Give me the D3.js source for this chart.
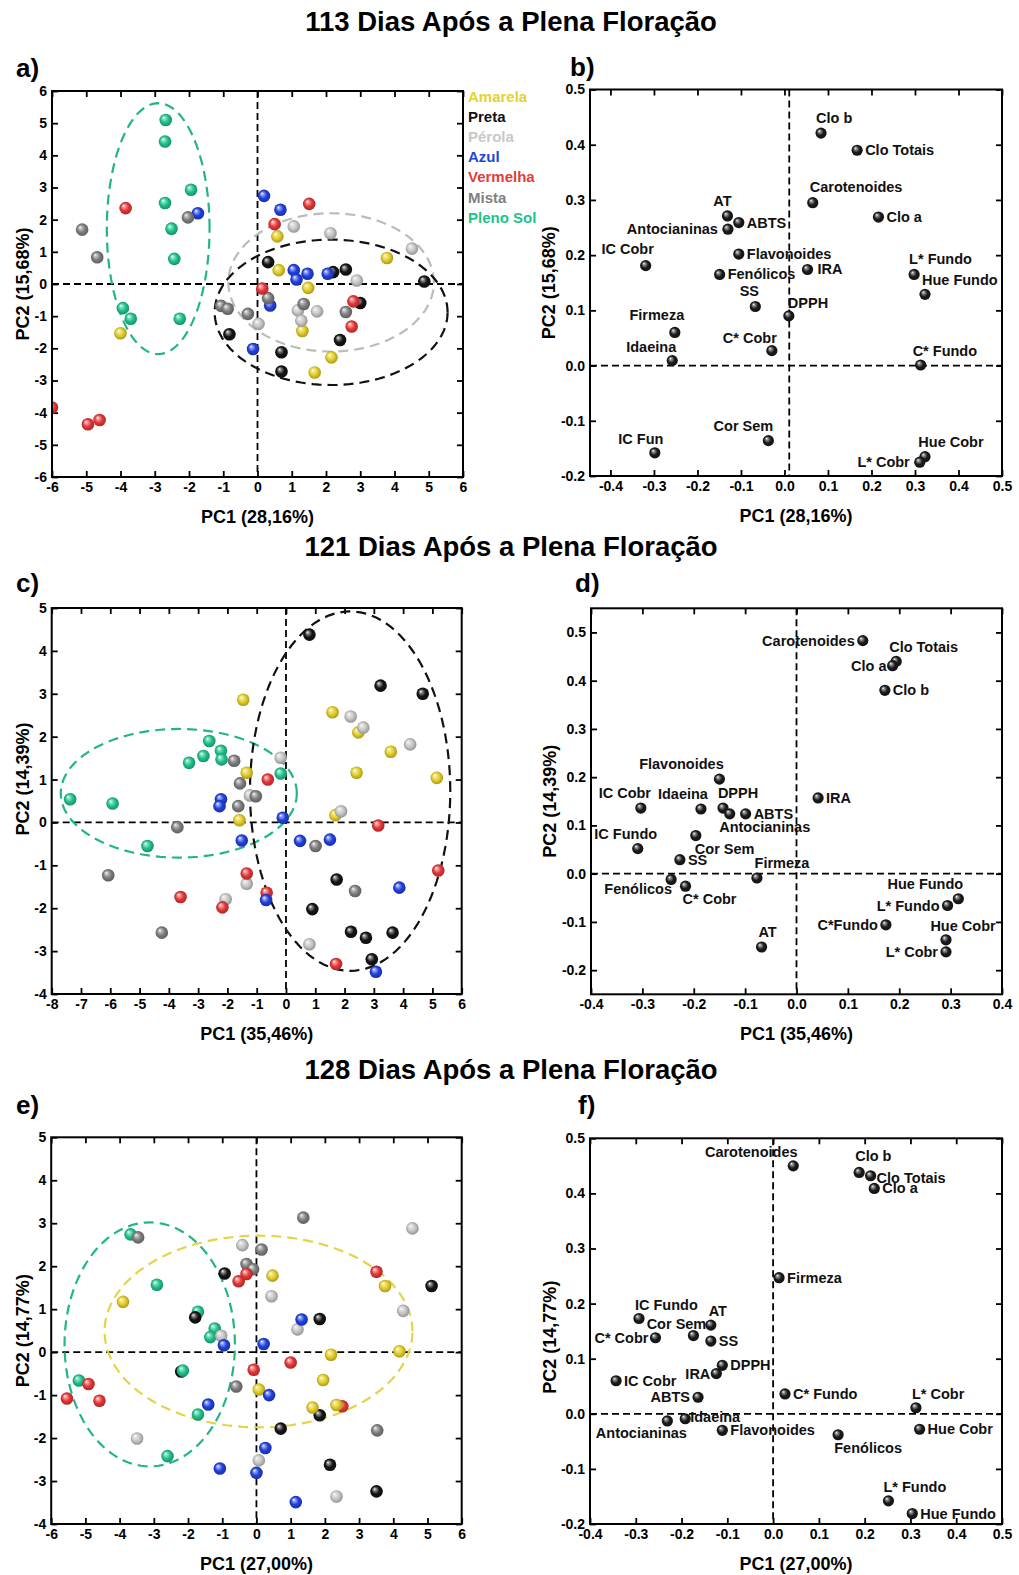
<!DOCTYPE html>
<html><head><meta charset="utf-8">
<script src="https://cdn.jsdelivr.net/npm/d3@7"></script>
<style>
body{margin:0;background:#fff;}
svg{display:block;font-family:"Liberation Sans",Arial,sans-serif;font-weight:bold;}
</style></head><body>
<svg id="chart" width="1019" height="1575"></svg>
<script>
// ---------------- DATA ----------------
const titles = ["113 Dias Após a Plena Floração","121 Dias Após a Plena Floração","128 Dias Após a Plena Floração"];
const panelLetters = ["a)","b)","c)","d)","e)","f)"];
const pc1Labels = ["PC1 (28,16%)","PC1 (35,46%)","PC1 (27,00%)"];
const pc2Labels = ["PC2 (15,68%)","PC2 (14,39%)","PC2 (14,77%)"];
const groups = ["Amarela","Preta","Pérola","Azul","Vermelha","Mista","Pleno Sol"];

const ticksScoreX_a = [-6,-5,-4,-3,-2,-1,0,1,2,3,4,5,6];
const ticksScoreY_a = [-6,-5,-4,-3,-2,-1,0,1,2,3,4,5,6];
const ticksScoreX_c = [-8,-7,-6,-5,-4,-3,-2,-1,0,1,2,3,4,5,6];
const ticksScoreY_c = [-4,-3,-2,-1,0,1,2,3,4,5];
const ticksScoreX_e = [-6,-5,-4,-3,-2,-1,0,1,2,3,4,5,6];
const ticksScoreY_e = [-4,-3,-2,-1,0,1,2,3,4,5];
const ticksLoadX_b = [-0.4,-0.3,-0.2,-0.1,0,0.1,0.2,0.3,0.4,0.5];
const ticksLoadY_b = [-0.2,-0.1,0,0.1,0.2,0.3,0.4,0.5];
const ticksLoadX_d = [-0.4,-0.3,-0.2,-0.1,0,0.1,0.2,0.3,0.4];
const ticksLoadY_d = [-0.2,-0.1,0,0.1,0.2,0.3,0.4,0.5];
const ticksLoadX_f = [-0.4,-0.3,-0.2,-0.1,0,0.1,0.2,0.3,0.4,0.5];
const ticksLoadY_f = [-0.2,-0.1,0,0.1,0.2,0.3,0.4,0.5];

// scores: [group, PC1, PC2]
const scoresA = [
 ["Amarela",0.58,1.48],["Amarela",0.62,0.43],["Amarela",1.48,-0.12],["Amarela",3.78,0.81],["Amarela",-4.0,-1.53],["Amarela",1.31,-1.46],["Amarela",2.16,-2.28],["Amarela",1.67,-2.75],
 ["Preta",0.31,0.68],["Preta",2.21,0.37],["Preta",2.58,0.45],["Preta",4.87,0.08],["Preta",-0.82,-1.56],["Preta",0.70,-2.12],["Preta",0.70,-2.72],["Preta",2.41,-1.74],["Preta",3.0,-0.59],
 ["Pérola",1.06,1.79],["Pérola",2.13,1.58],["Pérola",4.51,1.10],["Pérola",2.90,0.11],["Pérola",0.03,-1.24],["Pérola",1.18,-0.82],["Pérola",1.74,-0.85],["Pérola",1.28,-1.14],
 ["Azul",-1.74,2.20],["Azul",0.19,2.74],["Azul",0.67,2.31],["Azul",1.06,0.43],["Azul",1.14,0.14],["Azul",1.46,0.32],["Azul",2.05,0.32],["Azul",0.37,-0.67],["Azul",-0.13,-2.02],
 ["Mista",-5.12,1.69],["Mista",-4.68,0.83],["Mista",-2.03,2.07],["Mista",-1.06,-0.68],["Mista",-0.87,-0.77],["Mista",-0.28,-0.93],["Mista",0.31,-0.44],["Mista",1.35,-0.62],["Mista",2.58,-0.87],
 ["Vermelha",-3.85,2.36],["Vermelha",1.51,2.49],["Vermelha",0.50,1.86],["Vermelha",0.14,-0.14],["Vermelha",-6.0,-3.84],["Vermelha",-4.95,-4.36],["Vermelha",-4.61,-4.23],["Vermelha",2.80,-0.54],["Vermelha",2.75,-1.32],
 ["Pleno Sol",-2.68,5.10],["Pleno Sol",-2.70,4.43],["Pleno Sol",-1.94,2.93],["Pleno Sol",-2.70,2.52],["Pleno Sol",-2.51,1.72],["Pleno Sol",-2.43,0.78],["Pleno Sol",-3.93,-0.75],["Pleno Sol",-3.70,-1.08],["Pleno Sol",-2.27,-1.08]
];
const scoresC = [
 ["Preta",0.80,4.38],["Preta",3.23,3.19],["Preta",4.67,3.00],["Preta",1.73,-1.33],["Preta",0.90,-2.02],["Preta",2.22,-2.55],["Preta",2.73,-2.69],["Preta",3.64,-2.57],["Preta",2.93,-3.19],
 ["Amarela",-1.46,2.86],["Amarela",1.59,2.57],["Amarela",2.47,2.10],["Amarela",3.58,1.65],["Amarela",2.41,1.16],["Amarela",5.15,1.04],["Amarela",-1.34,1.16],["Amarela",1.69,0.17],["Amarela",-1.59,0.05],
 ["Pérola",2.21,2.47],["Pérola",2.64,2.21],["Pérola",4.24,1.82],["Pérola",-0.18,1.51],["Pérola",-1.23,0.63],["Pérola",1.88,0.26],["Pérola",-1.34,-1.43],["Pérola",-2.06,-1.79],["Pérola",0.80,-2.84],
 ["Mista",-1.77,1.44],["Mista",-1.57,0.91],["Mista",-1.03,0.61],["Mista",-1.63,0.38],["Mista",-3.71,-0.11],["Mista",-6.07,-1.23],["Mista",-4.24,-2.57],["Mista",1.01,-0.55],["Mista",2.36,-1.60],
 ["Pleno Sol",-2.62,1.90],["Pleno Sol",-2.22,1.67],["Pleno Sol",-2.20,1.47],["Pleno Sol",-2.82,1.55],["Pleno Sol",-3.31,1.39],["Pleno Sol",-0.18,1.14],["Pleno Sol",-7.37,0.54],["Pleno Sol",-5.92,0.44],["Pleno Sol",-4.73,-0.55],
 ["Vermelha",-0.62,1.0],["Vermelha",3.15,-0.07],["Vermelha",-1.34,-1.19],["Vermelha",-3.60,-1.74],["Vermelha",-2.17,-1.98],["Vermelha",-0.66,-1.64],["Vermelha",1.71,-3.30],["Vermelha",5.20,-1.12],
 ["Azul",-2.22,0.54],["Azul",-2.27,0.38],["Azul",-0.11,0.11],["Azul",-1.51,-0.42],["Azul",0.48,-0.43],["Azul",1.50,-0.40],["Azul",-0.68,-1.81],["Azul",3.87,-1.52],["Azul",3.07,-3.48]
];
const scoresE = [
 ["Pleno Sol",-3.68,2.74],["Pleno Sol",-2.91,1.57],["Pleno Sol",-1.71,0.94],["Pleno Sol",-1.22,0.55],["Pleno Sol",-1.35,0.35],["Pleno Sol",-5.19,-0.66],["Pleno Sol",-1.71,-1.45],["Pleno Sol",-2.60,-2.42],
 ["Mista",-3.46,2.67],["Mista",1.37,3.13],["Mista",0.15,2.39],["Mista",-0.29,2.05],["Mista",-0.10,1.93],["Mista",-0.59,-0.80],["Mista",3.53,-1.82],
 ["Pérola",4.56,2.88],["Pérola",-0.41,2.49],["Pérola",0.44,1.30],["Pérola",4.29,0.96],["Pérola",1.20,0.53],["Pérola",-1.03,0.38],["Pérola",-3.49,-2.01],["Pérola",0.07,-2.52],["Pérola",2.34,-3.36],
 ["Preta",-0.93,1.83],["Preta",5.12,1.54],["Preta",1.85,0.77],["Preta",-1.79,0.81],["Preta",-2.20,-0.45],["Preta",1.85,-1.47],["Preta",0.71,-1.78],["Preta",2.15,-2.62],["Preta",3.51,-3.24],
 ["Pleno Sol",-2.15,-0.43],
 ["Vermelha",3.51,1.87],["Vermelha",-0.52,1.65],["Vermelha",-0.29,1.82],["Vermelha",-0.08,-0.41],["Vermelha",1.00,-0.24],["Vermelha",-4.91,-0.74],["Vermelha",-4.59,-1.13],["Vermelha",-5.54,-1.08],["Vermelha",2.51,-1.26],
 ["Amarela",-3.90,1.17],["Amarela",0.47,1.78],["Amarela",3.76,1.54],["Amarela",2.18,-0.06],["Amarela",4.18,0.02],["Amarela",1.95,-0.65],["Amarela",0.07,-0.87],["Amarela",1.64,-1.29],["Amarela",2.34,-1.23],
 ["Azul",1.32,0.76],["Azul",-0.95,0.16],["Azul",0.21,0.19],["Azul",-1.41,-1.22],["Azul",0.37,-1.0],["Azul",0.26,-2.23],["Azul",-1.07,-2.71],["Azul",0.0,-2.81],["Azul",1.15,-3.49]
];

// group ellipses: [group, centre PC1, centre PC2, semi-axis PC1, semi-axis PC2]
const ellipsesA = [["Pleno Sol",-2.9,1.72,1.5,3.9],["Pérola",2.15,0.05,3.0,2.15],["Preta",2.15,-0.88,3.4,2.26]];
const ellipsesC = [["Pleno Sol",-3.66,0.68,4.03,1.5],["Preta",2.19,0.73,3.42,4.19]];
const ellipsesE = [["Pleno Sol",-3.12,0.18,2.49,2.84],["Amarela",0.06,0.48,4.5,2.23]];

// loadings: [variable, PC1, PC2]
const loadingsB = [
 ["Clo b",0.084,0.421],["Clo Totais",0.167,0.390],["Carotenoides",0.065,0.295],["Clo a",0.216,0.269],
 ["AT",-0.131,0.271],["ABTS",-0.105,0.259],["Antocianinas",-0.130,0.247],["IC Cobr",-0.319,0.181],
 ["Flavonoides",-0.105,0.202],["Fenólicos",-0.149,0.165],["IRA",0.053,0.174],["L* Fundo",0.298,0.165],
 ["Hue Fundo",0.323,0.129],["SS",-0.067,0.107],["DPPH",0.010,0.090],["Firmeza",-0.252,0.060],
 ["C* Cobr",-0.029,0.027],["Idaeina",-0.258,0.009],["C* Fundo",0.313,0.001],["Cor Sem",-0.037,-0.136],
 ["IC Fun",-0.298,-0.158],["Hue Cobr",0.323,-0.165],["L* Cobr",0.311,-0.175]
];
const loadingsD = [
 ["Carotenoides",0.129,0.483],["Clo Totais",0.194,0.440],["Clo a",0.187,0.431],["Clo b",0.172,0.380],
 ["Flavonoides",-0.150,0.196],["IRA",0.042,0.157],["IC Cobr",-0.303,0.136],["Idaeina",-0.186,0.134],
 ["DPPH",-0.143,0.136],["Antocianinas",-0.130,0.124],["ABTS",-0.099,0.124],["IC Fundo",-0.309,0.052],
 ["Cor Sem",-0.196,0.079],["SS",-0.227,0.029],["Firmeza",-0.077,-0.009],["Fenólicos",-0.244,-0.012],
 ["C* Cobr",-0.216,-0.026],["AT",-0.068,-0.152],["Hue Fundo",0.315,-0.052],["L* Fundo",0.294,-0.066],
 ["C*Fundo",0.174,-0.106],["Hue Cobr",0.291,-0.137],["L* Cobr",0.291,-0.162]
];
const loadingsF = [
 ["Carotenoides",0.044,0.450],["Clo b",0.188,0.438],["Clo Totais",0.213,0.432],["Clo a",0.221,0.409],
 ["Firmeza",0.013,0.247],["IC Fundo",-0.293,0.173],["AT",-0.136,0.161],["Cor Sem",-0.174,0.142],
 ["C* Cobr",-0.257,0.138],["SS",-0.136,0.132],["DPPH",-0.111,0.088],["IRA",-0.124,0.073],
 ["IC Cobr",-0.343,0.060],["ABTS",-0.164,0.030],["C* Fundo",0.026,0.036],["L* Cobr",0.312,0.011],
 ["Antocianinas",-0.231,-0.013],["Idaeina",-0.192,-0.009],["Flavonoides",-0.111,-0.030],["Fenólicos",0.142,-0.038],
 ["Hue Cobr",0.320,-0.028],["L* Fundo",0.252,-0.158],["Hue Fundo",0.304,-0.181]
];

// ---------------- STYLE / LAYOUT ----------------
const groupColor = {"Amarela":"#e3cd27","Preta":"#141414","Pérola":"#c6c6c6","Azul":"#2140de","Vermelha":"#e63636","Mista":"#7e7e7e","Pleno Sol":"#1ec28a"};
const legendColor = {"Amarela":"#e6d22c","Preta":"#111","Pérola":"#c8c8c8","Azul":"#2343d8","Vermelha":"#e43c3c","Mista":"#808080","Pleno Sol":"#20c48c"};
const ellipseColor = {"Pleno Sol":"#23b487","Pérola":"#bbbbbb","Preta":"#111","Amarela":"#e5d349"};
// label placement: [anchor, dx, dy] in px from the point centre
const R = ["s",8,5], L = ["e",-8,5];
const placeB = {"Clo b":["s",-5,-10],"Clo Totais":R,"Carotenoides":["s",-3,-11],"Clo a":R,"AT":["m",-5,-10],"ABTS":R,
 "Antocianinas":["e",-10,5],"IC Cobr":["m",-18,-12],"Flavonoides":R,"Fenólicos":R,"IRA":["s",10,5],"L* Fundo":["s",-5,-10],
 "Hue Fundo":["s",-3,-9],"SS":["m",-6,-10],"DPPH":["s",-1,-8],"Firmeza":["m",-18,-12],"C* Cobr":["m",-22,-8],"Idaeina":["m",-21,-9],
 "C* Fundo":["s",-8,-9],"Cor Sem":["m",-25,-10],"IC Fun":["m",-14,-9],"Hue Cobr":["m",26,-10],"L* Cobr":["e",-10,5]};
const placeD = {"Carotenoides":["e",-8,5],"Clo Totais":["s",-7,-9],"Clo a":["e",-6,5],"Clo b":R,"Flavonoides":["m",-38,-10],
 "IRA":R,"IC Cobr":["m",-16,-10],"Idaeina":["m",-18,-10],"DPPH":["m",15,-10],"Antocianinas":["m",35,18],"ABTS":R,
 "IC Fundo":["m",-12,-10],"Cor Sem":["s",-1,18],"SS":R,"Firmeza":["m",25,-10],"Fenólicos":["m",-33,15],"C* Cobr":["m",24,18],
 "AT":["m",6,-10],"Hue Fundo":["m",-33,-10],"L* Fundo":L,"C*Fundo":L,"Hue Cobr":["m",17,-9],"L* Cobr":L};
const placeF = {"Carotenoides":["m",-42,-9],"Clo b":["s",-4,-11],"Clo Totais":["s",6,7],"Clo a":R,"Firmeza":R,"IC Fundo":["s",-4,-8],
 "AT":["m",7,-9],"Cor Sem":["m",-17,-7],"C* Cobr":["e",-7,5],"SS":R,"DPPH":R,"IRA":["e",-6,5],"IC Cobr":R,"ABTS":L,"C* Fundo":R,
 "L* Cobr":["s",-4,-9],"Antocianinas":["m",-26,17],"Idaeina":["s",5,3],"Flavonoides":R,"Fenólicos":["m",30,18],"Hue Cobr":R,
 "L* Fundo":["s",-5,-9],"Hue Fundo":R};

const svg = d3.select("#chart");
const defs = svg.append("defs");
const FONT = '"Liberation Sans", Arial, sans-serif';

function sphereGrad(id, base){
  const c = d3.color(base);
  const gr = defs.append("radialGradient").attr("id",id)
    .attr("cx","50%").attr("cy","50%").attr("r","55%").attr("fx","33%").attr("fy","30%");
  gr.append("stop").attr("offset","0%").attr("stop-color","#ffffff");
  gr.append("stop").attr("offset","18%").attr("stop-color",d3.interpolateRgb(base,"#ffffff")(0.55));
  gr.append("stop").attr("offset","55%").attr("stop-color",base);
  gr.append("stop").attr("offset","100%").attr("stop-color",c.darker(1.0).formatHex());
}
groups.forEach((g,i)=>sphereGrad("sph"+i, groupColor[g]));
sphereGrad("sphLoad","#1a1a1a");

let clipN = 0;
function makePanel(o){
  const x = d3.scaleLinear().domain(o.xd).range([o.x0,o.x1]);
  const y = d3.scaleLinear().domain(o.yd).range([o.y1,o.y0]);
  const g = svg.append("g");
  const id = "clip"+(clipN++);
  defs.append("clipPath").attr("id",id).append("rect")
    .attr("x",o.x0).attr("y",o.y0).attr("width",o.x1-o.x0).attr("height",o.y1-o.y0);
  const styleAxis = sel => {
    sel.select(".domain").remove();
    sel.selectAll(".tick line").attr("stroke","#000").attr("stroke-width",1.8);
    sel.selectAll(".tick text").attr("fill","#000").style("font-family",FONT).style("font-size","14px").style("font-weight","bold");
    sel.attr("font-family",null).attr("font-size",null);
  };
  g.append("g").attr("transform",`translate(0,${o.y1})`)
    .call(d3.axisBottom(x).tickValues(o.xt).tickFormat(o.fmt).tickSizeInner(-6).tickSizeOuter(0).tickPadding(5)).call(styleAxis);
  g.append("g").attr("transform",`translate(0,${o.y0})`)
    .call(d3.axisTop(x).tickValues(o.xt).tickFormat("").tickSizeInner(-6).tickSizeOuter(0)).call(styleAxis);
  g.append("g").attr("transform",`translate(${o.x0},0)`)
    .call(d3.axisLeft(y).tickValues(o.yt).tickFormat(o.fmt).tickSizeInner(-6).tickSizeOuter(0).tickPadding(5)).call(styleAxis);
  g.append("g").attr("transform",`translate(${o.x1},0)`)
    .call(d3.axisRight(y).tickValues(o.yt).tickFormat("").tickSizeInner(-6).tickSizeOuter(0)).call(styleAxis);
  const inner = g.append("g").attr("clip-path",`url(#${id})`);
  // zero reference lines
  inner.append("line").attr("x1",o.x0).attr("x2",o.x1).attr("y1",y(0)).attr("y2",y(0))
    .attr("stroke","#000").attr("stroke-width",1.8).attr("stroke-dasharray","7,4");
  inner.append("line").attr("x1",x(o.vx||0)).attr("x2",x(o.vx||0)).attr("y1",o.y0).attr("y2",o.y1)
    .attr("stroke","#000").attr("stroke-width",1.8).attr("stroke-dasharray","7,4");
  // axis titles
  g.append("text").attr("x",(o.x0+o.x1)/2).attr("y",o.y1+46).attr("text-anchor","middle")
    .style("font-size","18px").text(o.xlab);
  g.append("text").attr("transform",`translate(${o.ylx},${(o.y0+o.y1)/2 + (o.ylOff||0)}) rotate(-90)`)
    .attr("text-anchor","middle").style("font-size","18px").text(o.ylab);
  // letter
  svg.append("text").attr("x",o.lx).attr("y",o.ly).style("font-size","26px").text(o.letter);
  return {x,y,g,inner,o};
}
function frame(p){
  const o=p.o;
  p.g.append("rect").attr("x",o.x0).attr("y",o.y0).attr("width",o.x1-o.x0).attr("height",o.y1-o.y0)
    .attr("fill","none").attr("stroke","#000").attr("stroke-width",2);
}

const ellLine = d3.line();
function drawScores(p, scores, ellipses){
  const ts = d3.range(0,361,3).map(d=>d*Math.PI/180);
  p.inner.selectAll("path.ell").data(ellipses).join("path").attr("class","ell")
    .attr("d",e=>ellLine(ts.map(t=>[p.x(e[1]+e[3]*Math.cos(t)), p.y(e[2]+e[4]*Math.sin(t))])) + "Z")
    .attr("fill","none").attr("stroke",e=>ellipseColor[e[0]]).attr("stroke-width",2.2).attr("stroke-dasharray","10,6");
  p.inner.selectAll("circle.pt").data(scores).join("circle").attr("class","pt")
    .attr("cx",d=>p.x(d[1])).attr("cy",d=>p.y(d[2])).attr("r",6.3)
    .attr("fill",d=>`url(#sph${groups.indexOf(d[0])})`);
  frame(p);
}
function drawLoadings(p, loads, place){
  p.inner.selectAll("circle.ld").data(loads).join("circle").attr("class","ld")
    .attr("cx",d=>p.x(d[1])).attr("cy",d=>p.y(d[2])).attr("r",5.6).attr("fill","url(#sphLoad)");
  p.g.selectAll("text.lab").data(loads).join("text").attr("class","lab")
    .attr("x",d=>p.x(d[1])+(place[d[0]]||R)[1]).attr("y",d=>p.y(d[2])+(place[d[0]]||R)[2])
    .attr("text-anchor",d=>({s:"start",m:"middle",e:"end"})[(place[d[0]]||R)[0]])
    .style("font-size","14.5px").attr("fill","#111").text(d=>d[0]);
  frame(p);
}

// titles
[31,556,1079].forEach((yy,i)=>svg.append("text").attr("x",511).attr("y",yy).attr("text-anchor","middle")
  .style("font-size","27.5px").text(titles[i]));

const fmtInt = d=>String(d);
const fmt1 = d=>d.toFixed(1);

const pA = makePanel({x0:52,x1:463,y0:91,y1:477,xd:[-6,6],yd:[-6,6],xt:ticksScoreX_a,yt:ticksScoreY_a,fmt:fmtInt,
  xlab:pc1Labels[0],ylab:pc2Labels[0],ylx:29,letter:panelLetters[0],lx:16,ly:77});
drawScores(pA, scoresA, ellipsesA);
// legend
pA.g.selectAll("text.leg").data(groups).join("text").attr("class","leg")
  .attr("x",468).attr("y",(d,i)=>101.5+i*20.2).style("font-size","15px")
  .attr("fill",d=>legendColor[d]).text(d=>d);

const pB = makePanel({x0:590,x1:1002,y0:89.5,y1:476,xd:[-0.447,0.5],yd:[-0.2,0.5],xt:ticksLoadX_b,yt:ticksLoadY_b,fmt:fmt1,vx:0.011,
  xlab:pc1Labels[0],ylab:pc2Labels[0],ylx:555,letter:panelLetters[1],lx:570,ly:76});
drawLoadings(pB, loadingsB, placeB);

const pC = makePanel({x0:51.7,x1:461.7,y0:608,y1:994,xd:[-8,6],yd:[-4,5],xt:ticksScoreX_c,yt:ticksScoreY_c,fmt:fmtInt,
  xlab:pc1Labels[1],ylab:pc2Labels[1],ylx:29,ylOff:-22,letter:panelLetters[2],lx:16,ly:592});
drawScores(pC, scoresC, ellipsesC);

const pD = makePanel({x0:591,x1:1002,y0:608.3,y1:994.3,xd:[-0.4,0.4],yd:[-0.25,0.55],xt:ticksLoadX_d,yt:ticksLoadY_d,fmt:fmt1,
  xlab:pc1Labels[1],ylab:pc2Labels[1],ylx:556,letter:panelLetters[3],lx:575,ly:592});
drawLoadings(pD, loadingsD, placeD);

const pE = makePanel({x0:51.2,x1:461.7,y0:1137.3,y1:1524,xd:[-6,6],yd:[-4,5],xt:ticksScoreX_e,yt:ticksScoreY_e,fmt:fmtInt,
  xlab:pc1Labels[2],ylab:pc2Labels[2],ylx:29,letter:panelLetters[4],lx:16,ly:1114});
drawScores(pE, scoresE, ellipsesE);

const pF = makePanel({x0:590,x1:1002,y0:1138.3,y1:1524,xd:[-0.4,0.5],yd:[-0.2,0.5],xt:ticksLoadX_f,yt:ticksLoadY_f,fmt:fmt1,
  xlab:pc1Labels[2],ylab:pc2Labels[2],ylx:556,ylOff:6,letter:panelLetters[5],lx:578,ly:1114});
drawLoadings(pF, loadingsF, placeF);
</script>
</body></html>
